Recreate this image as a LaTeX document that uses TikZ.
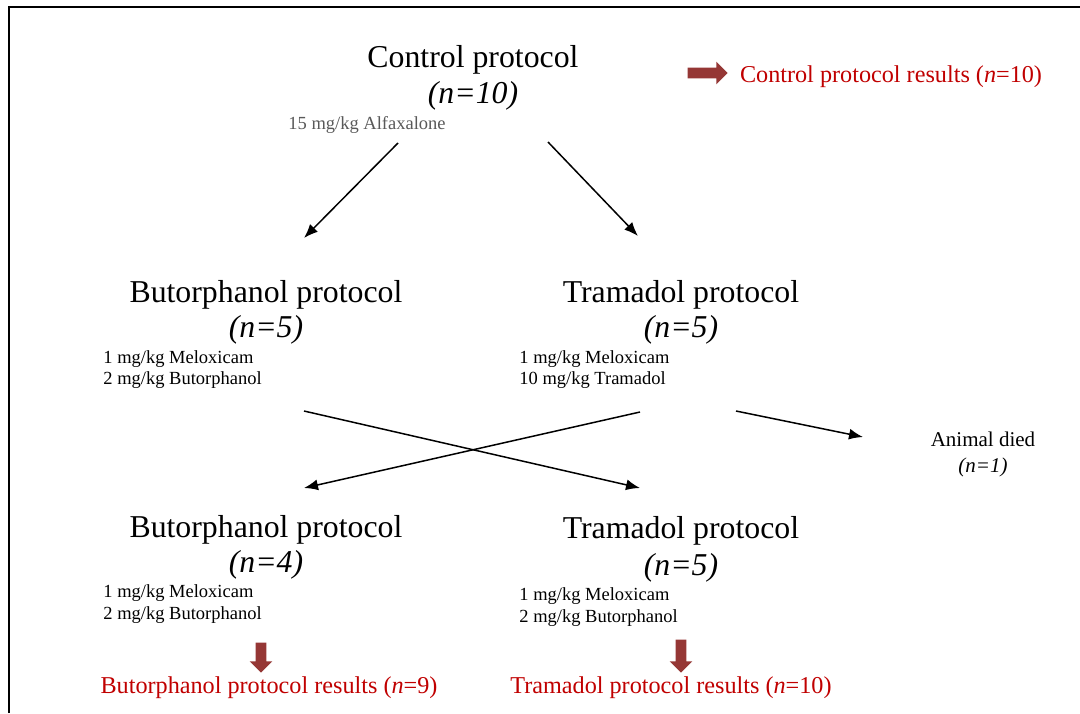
\documentclass[tikz,border=0pt]{standalone}
\usepackage{fontspec}
\setmainfont{Liberation Serif}
\usetikzlibrary{calc,shapes.arrows,arrows.meta}

\definecolor{resred}{HTML}{C00000}
\definecolor{arrred}{HTML}{953735}

\tikzset{
  title/.style={anchor=base,inner sep=0pt,font=\fontsize{15.9}{19}\selectfont},
  count/.style={anchor=base,inner sep=0pt,font=\fontsize{15.9}{19}\selectfont\itshape},
  dose/.style={anchor=base west,inner sep=0pt,font=\fontsize{9.25}{11}\selectfont},
  result/.style={anchor=base,inner sep=0pt,text=resred,font=\fontsize{12.1}{14}\selectfont},
  flow/.style={line width=0.75pt,-{Latex[length=7pt,width=5.5pt]}},
  blockarrow/.style={single arrow,fill=arrred,draw=none,inner sep=2.5pt,
    single arrow head extend=3pt}
}

\begin{document}
\begin{tikzpicture}[x=0.5pt,y=-0.5pt]
  \useasboundingbox (0,0) rectangle (1080,713);
  \draw[line width=1.2pt] (9,713) -- (9,7) -- (1080,7);

  %% Control protocol
  \node[title] (CTRL) at (473,67) {Control protocol};
  \node[count] (CTRLN) at (473,103) {(n=10)};
  \node[dose,anchor=base,text=black!65] (CTRLD) at (367,129) {15 mg/kg Alfaxalone};
  \node[blockarrow,minimum height=20pt] (CTRLA) at (705,73) {};
  \node[result] (CTRLR) at (891,82) {Control protocol results (\textit{n}=10)};

  %% First round
  \node[title] (BUT1) at (266,302) {Butorphanol protocol};
  \node[count] (BUT1N) at (266,337) {(n=5)};
  \node[title] (TRA1) at (681,302) {Tramadol protocol};
  \node[count] (TRA1N) at (681,337) {(n=5)};
  \foreach \x/\y/\name/\txt in {103/363/BUT1D1/{1 mg/kg Meloxicam},
                                103/384/BUT1D2/{2 mg/kg Butorphanol},
                                519/363/TRA1D1/{1 mg/kg Meloxicam},
                                519/384/TRA1D2/{10 mg/kg Tramadol}}
  {
    \node[dose] (\name) at (\x,\y) {\txt};
  }

  %% Animal lost
  \node[anchor=base,inner sep=0pt,font=\fontsize{10.5}{12}\selectfont] (DIED) at (983,446) {Animal died};
  \node[anchor=base,inner sep=0pt,font=\fontsize{10.5}{12}\selectfont\itshape] (DIEDN) at (983,472) {(n=1)};

  %% Second round
  \node[title] (BUT2) at (266,537) {Butorphanol protocol};
  \node[count] (BUT2N) at (266,572) {(n=4)};
  \node[title] (TRA2) at (681,538) {Tramadol protocol};
  \node[count] (TRA2N) at (681,575) {(n=5)};
  \foreach \x/\y/\name/\txt in {103/597/BUT2D1/{1 mg/kg Meloxicam},
                                103/619/BUT2D2/{2 mg/kg Butorphanol},
                                519/600/TRA2D1/{1 mg/kg Meloxicam},
                                519/622/TRA2D2/{2 mg/kg Butorphanol}}
  {
    \node[dose] (\name) at (\x,\y) {\txt};
  }

  %% Results
  \node[blockarrow,minimum height=15pt,shape border rotate=270] (BUT2A) at (261,655) {};
  \node[blockarrow,minimum height=16.5pt,shape border rotate=270] (TRA2A) at (681,653.5) {};
  \node[result] (BUT2R) at (269,693) {Butorphanol protocol results (\textit{n}=9)};
  \node[result] (TRA2R) at (671,693) {Tramadol protocol results (\textit{n}=10)};

  %% Arrow ends
  \coordinate (CTRLL) at (398,143);
  \coordinate (CTRLRR) at (548,142);
  \coordinate (BUT1T) at (304,238);
  \coordinate (TRA1T) at (638,236);
  \coordinate (BUT1B) at (304,411);
  \coordinate (TRA1B) at (640,412);
  \coordinate (TRA1E) at (736,411);
  \coordinate (BUT2T) at (304,488);
  \coordinate (TRA2T) at (640,488);
  \coordinate (DIEDW) at (863,437);

  \foreach \a/\b in {CTRLL/BUT1T,CTRLRR/TRA1T,BUT1B/TRA2T,TRA1B/BUT2T,TRA1E/DIEDW}
  {
    \draw[flow] (\a) -- (\b);
  }
\end{tikzpicture}
\end{document}
